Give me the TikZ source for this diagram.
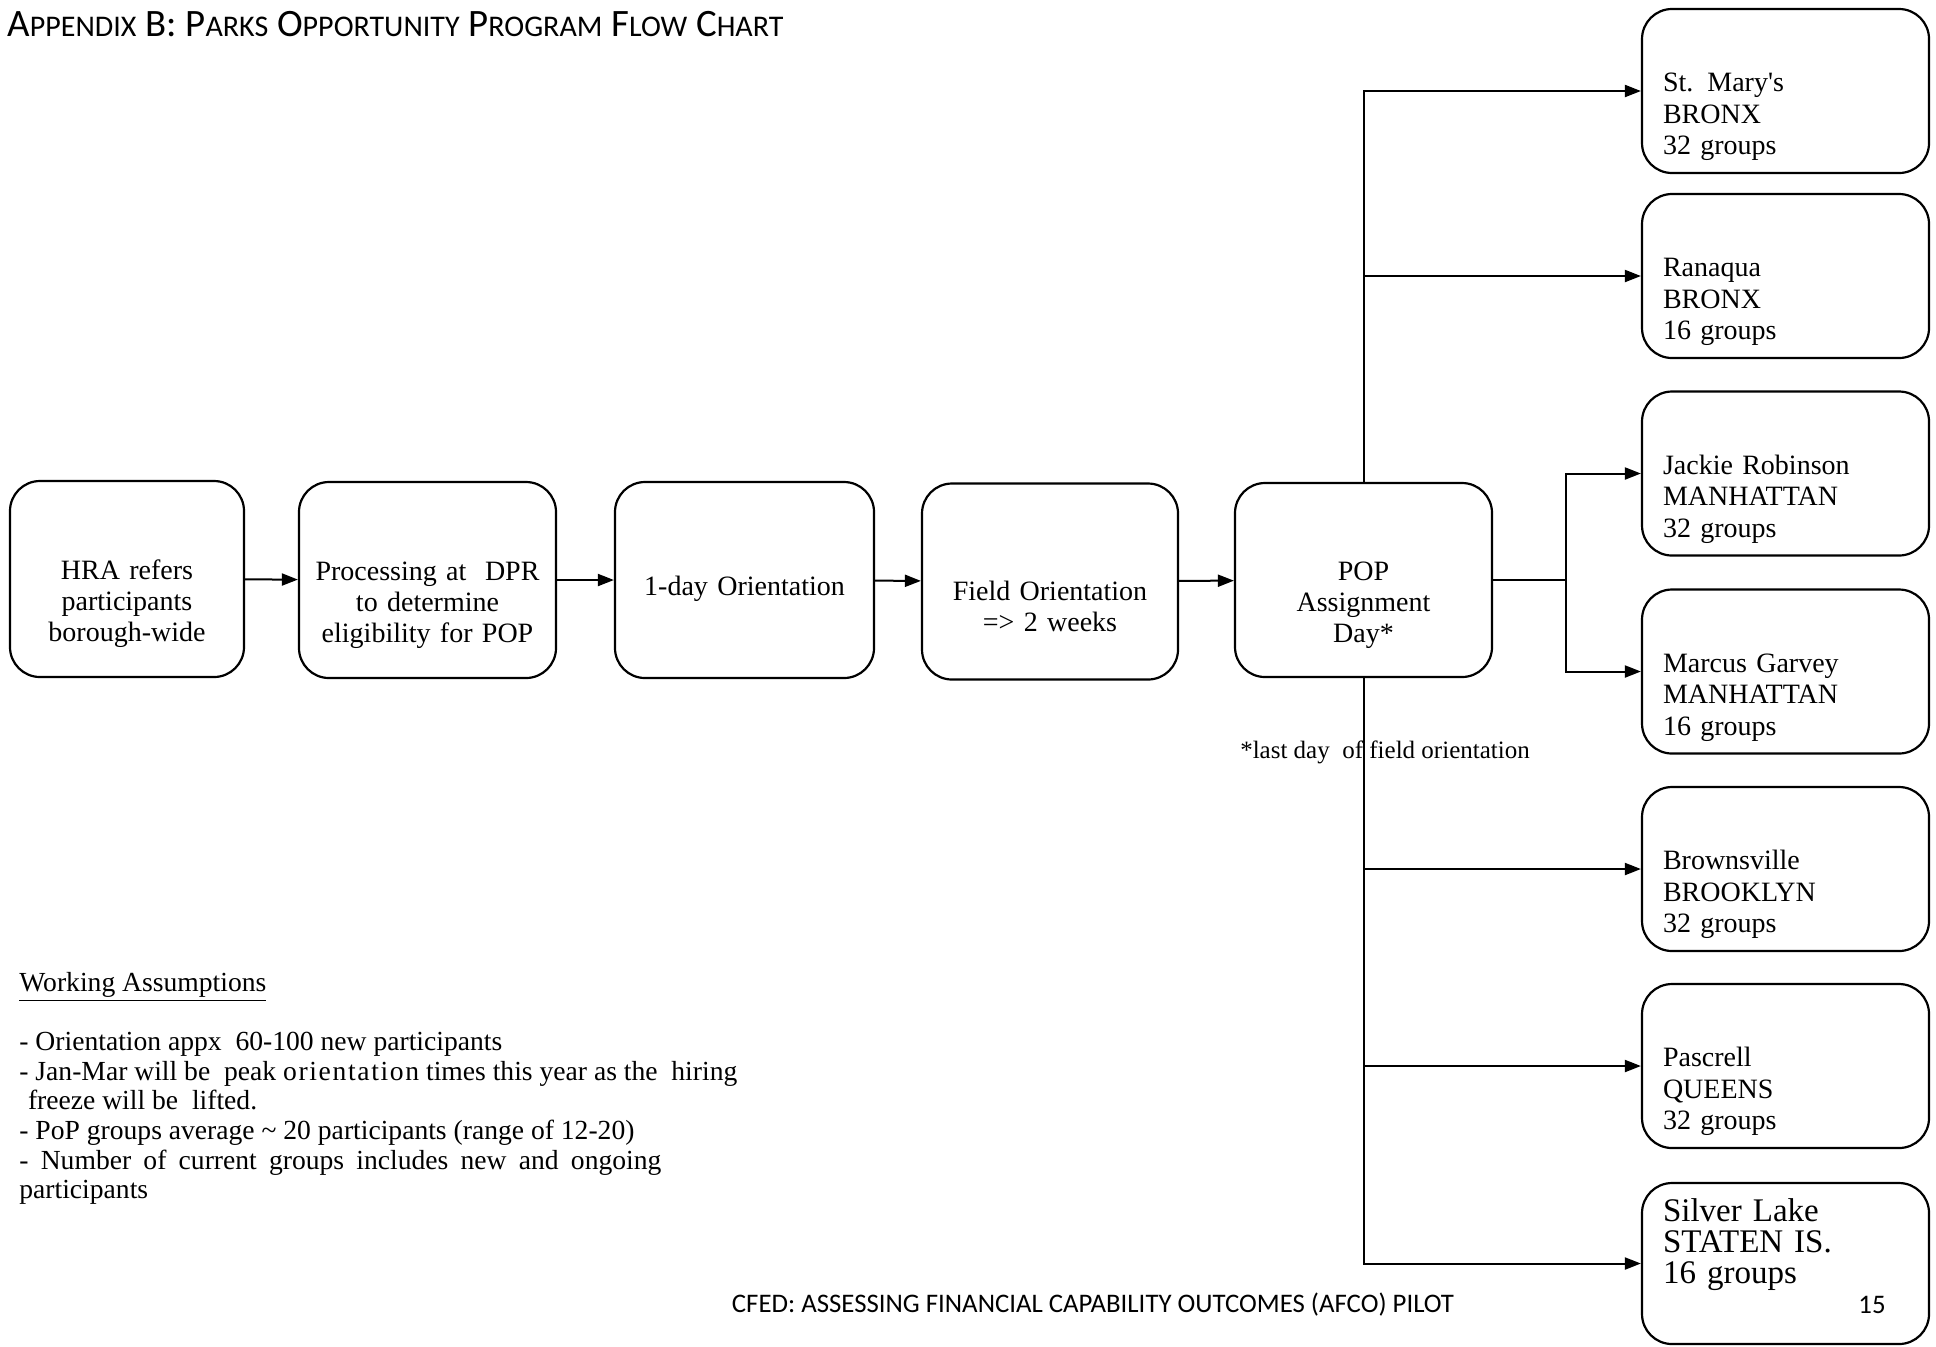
\documentclass[tikz,border=0pt]{standalone}
\usepackage{fontspec}
\setmainfont{Liberation Serif}
\newfontfamily\calibri{Carlito}
\usetikzlibrary{arrows.meta}

\newcommand{\boxfont}{\fontsize{14}{15.5}\selectfont}
\newcommand{\sitefont}{\fontsize{14}{15.75}\selectfont}
\newcommand{\bigsitefont}{\fontsize{16.5}{15.5}\selectfont}
\newcommand{\notefont}{\fontsize{13.8}{14.8}\selectfont}
\newcommand{\smallcap}[1]{{\fontsize{15}{17}\selectfont #1}}

\tikzset{
  stepbox/.style={draw, line width=1.1pt, rounded corners=15pt, inner xsep=0pt,
    text width=#1, minimum height=98pt, align=center, font=\boxfont},
  stepbox/.default=128.5pt,
  lowtext/.style={execute at begin node={\rule{0pt}{#1}}},
  lowtext/.default=34.7pt,
  siteframe/.style={draw, line width=1.1pt, rounded corners=15pt,
    minimum height=82pt, text width=122.5pt, inner xsep=10.5pt,
    align=left, font=\sitefont},
  sitebox/.style={siteframe, lowtext=35.2pt},
  link/.style={line width=1pt},
  arr/.style={link, -{Triangle[length=8pt,width=6pt]}},
  plain/.style={inner sep=0pt}
}

\begin{document}
\begin{tikzpicture}[x=0.5pt, y=-0.5pt]
  \useasboundingbox (0,0) rectangle (1936,1346);

  \node[plain, anchor=west, font={\calibri\fontsize{19.4}{21}\selectfont}] (title) at (7,24)
    {A\smallcap{PPENDIX} B: P\smallcap{ARKS} O\smallcap{PPORTUNITY} P\smallcap{ROGRAM} F\smallcap{LOW} C\smallcap{HART}};

  % main flow
  \node[stepbox=117pt, lowtext] (hra) at (127,579) {HRA refers\\participants\\borough-wide};
  \node[stepbox, lowtext] (dpr) at (427.5,580) {Processing at~ DPR\\to determine\\eligibility for POP};
  \node[stepbox=129.5pt, lowtext=18.7pt] (orient) at (744.5,580) {1-day Orientation};
  \node[stepbox=128pt, lowtext] (field) at (1050,581.5) {Field Orientation\\=> 2 weeks};
  \node[stepbox, lowtext, minimum height=97pt] (pop) at (1363.5,580) {POP\\Assignment\\Day*};

  % sites
  \node[sitebox] (stmary) at (1785.5,91) {St. Mary\textquotesingle s\\BRONX\\32 groups};
  \node[sitebox] (ranaqua) at (1785.5,276) {Ranaqua\\BRONX\\16 groups};
  \node[sitebox] (jackie) at (1785.5,473.5) {Jackie Robinson\\MANHATTAN\\32 groups};
  \node[sitebox] (garvey) at (1785.5,671.5) {Marcus Garvey\\MANHATTAN\\16 groups};
  \node[sitebox] (brownsville) at (1785.5,869) {Brownsville\\BROOKLYN\\32 groups};
  \node[sitebox] (pascrell) at (1785.5,1066) {Pascrell\\QUEENS\\32 groups};
  \node[siteframe, font=\bigsitefont, minimum height=80.5pt,
    execute at end node={\rule[-22pt]{0pt}{0pt}}] (silverlake) at (1785.5,1263.5) {Silver Lake\\STATEN IS.\\16 groups};

  \draw[arr] (hra) -- (dpr);
  \draw[arr] (dpr) -- (orient);
  \draw[arr] (orient) -- (field);
  \draw[arr] (field) -- (pop);

  % trunk up and down
  \draw[arr] (pop.north) |- (stmary.west);
  \draw[arr] (pop.north) |- (ranaqua.west);
  \draw[arr] (pop.south) |- (brownsville.west);
  \draw[arr] (pop.south) |- (pascrell.west);
  \draw[arr] (pop.south) |- (silverlake.west);

  % manhattan fork
  \coordinate (fork) at (1566,580);
  \draw[link] (pop.east) -- (fork);
  \draw[arr] (fork) |- (jackie.west);
  \draw[arr] (fork) |- (garvey.west);

  \node[plain, font={\fontsize{12.5}{14}\selectfont}] (note) at (1385,752) {*last day~ of field orientation};

  \node[plain, anchor=north west, align=left, font=\notefont] (assume) at (19,972)
    {\underline{Working Assumptions}\\[14.8pt]
     - Orientation appx~ 60-100 new participants\\
     - Jan-Mar will be~ peak {\addfontfeature{LetterSpace=6}orientation} times this year as the~ hiring\\
     \hspace*{4.3pt}freeze will be~ lifted.\\
     - PoP groups average \textasciitilde{} 20 participants (range of 12-20)\\
     \makebox[321pt][s]{- Number of current groups includes new and ongoing}\\
     participants};

  \node[plain, font={\calibri\fontsize{13.4}{15}\selectfont}] (footer) at (1093,1305)
    {CFED: ASSESSING FINANCIAL CAPABILITY OUTCOMES (AFCO) PILOT};
  \node[plain, font={\calibri\fontsize{13.4}{15}\selectfont}] (pageno) at (1872,1305) {15};
\end{tikzpicture}
\end{document}
